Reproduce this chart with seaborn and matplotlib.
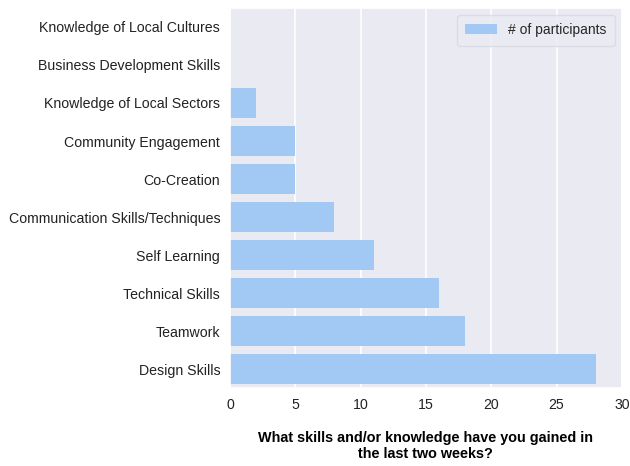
import matplotlib
matplotlib.use("Agg")
import matplotlib.pyplot as plt
import seaborn as sns
import pandas as pd

skills = [
    "Knowledge of Local Cultures",
    "Business Development Skills",
    "Knowledge of Local Sectors",
    "Community Engagement",
    "Co-Creation",
    "Communication Skills/Techniques",
    "Self Learning",
    "Technical Skills",
    "Teamwork",
    "Design Skills",
]
participants = [0, 0, 2, 5, 5, 8, 11, 16, 18, 28]
x_ticks = [0, 5, 10, 15, 20, 25, 30]
legend_label = "# of participants"
x_title = "What skills and/or knowledge have you gained in\nthe last two weeks?"

sns.set_theme(style="darkgrid")
plt.rcParams["font.family"] = ["Liberation Sans", "DejaVu Sans"]

df = pd.DataFrame({"skill": skills, "count": participants})

fig, ax = plt.subplots(figsize=(6.3, 4.66), dpi=100)
fig.subplots_adjust(left=0.365, right=0.987, top=0.983, bottom=0.167)

sns.barplot(data=df, x="count", y="skill", order=skills, color="#a1c9f4",
            saturation=1, width=0.8, label=legend_label, linewidth=0, ax=ax)

ax.set_xlim(0, 30)
ax.set_ylim(9.5, -0.5)
ax.set_xticks(x_ticks)
ax.tick_params(axis="both", labelsize=10.2, colors="#222222", length=0)
ax.tick_params(axis="x", pad=7)
ax.tick_params(axis="y", pad=7)
ax.yaxis.grid(False)
ax.xaxis.grid(True, color="white", linewidth=1.2)
ax.set_ylabel("")
ax.set_xlabel(x_title, fontsize=10.4, fontweight="bold", labelpad=14,
              color="black", linespacing=1.15)
ax.legend(loc="upper right", fontsize=10, frameon=True, facecolor="#eaeaf2",
          edgecolor="#d8d8e0", handlelength=2.3, borderpad=0.6)

fig.savefig("out.png", dpi=100)
